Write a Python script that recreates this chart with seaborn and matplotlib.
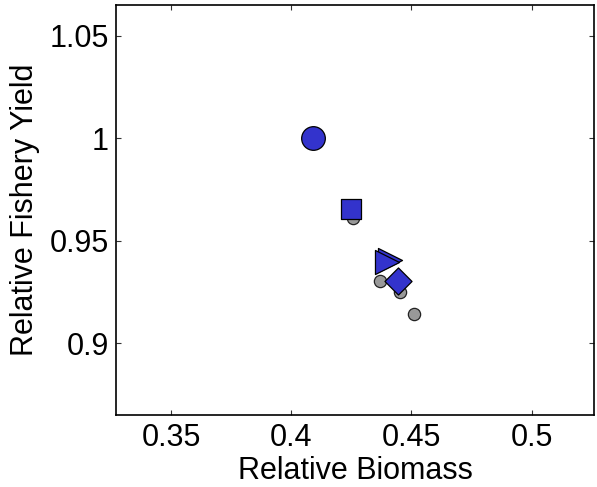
import matplotlib
matplotlib.use("Agg")
import matplotlib.pyplot as plt
import seaborn as sns
import pandas as pd

# Data
gray_x = [0.4257, 0.4368, 0.4452, 0.4510]
gray_y = [0.9610, 0.9306, 0.9252, 0.9142]

blue_labels = ["circle", "square", "triangle_b", "triangle_a", "diamond"]
blue_x = [0.4090, 0.4250, 0.4410, 0.4398, 0.4442]
blue_y = [1.0000, 0.9654, 0.9404, 0.9395, 0.9306]
blue_markers = ["o", "s", ">", ">", "D"]
blue_sizes = [290, 190, 300, 300, 190]

x_ticks = [0.35, 0.40, 0.45, 0.50]
x_ticklabels = ["0.35", "0.4", "0.45", "0.5"]
y_ticks = [0.90, 0.95, 1.00, 1.05]
y_ticklabels = ["0.9", "0.95", "1", "1.05"]

sns.set_theme(style="white")
plt.rcParams["font.family"] = ["Liberation Sans", "DejaVu Sans"]

fig = plt.figure(figsize=(5.97, 4.87), dpi=100)
ax = fig.add_axes([0.1943, 0.1478, 0.8007, 0.8419])

gray_df = pd.DataFrame({"x": gray_x, "y": gray_y})
sns.scatterplot(data=gray_df, x="x", y="y", ax=ax, s=78, color="#999999",
                edgecolor="#222222", linewidth=0.9, zorder=2)

blue_df = pd.DataFrame({"x": blue_x, "y": blue_y, "m": blue_markers,
                        "s": blue_sizes, "lab": blue_labels})
for i, row in blue_df.iterrows():
    sns.scatterplot(x=[row["x"]], y=[row["y"]], ax=ax, marker=row["m"],
                    s=row["s"], color="#3333CC", edgecolor="#000000",
                    linewidth=0.9, zorder=3 + i * 0.1)

ax.set_xlim(0.327, 0.526)
ax.set_ylim(0.865, 1.065)
ax.set_xticks(x_ticks)
ax.set_xticklabels(x_ticklabels)
ax.set_yticks(y_ticks)
ax.set_yticklabels(y_ticklabels)

ax.tick_params(axis="both", which="major", direction="in", length=3.5,
               width=0.8, color="#333333", labelsize=22, top=True, right=True,
               bottom=True, left=True, labelcolor="black")
ax.tick_params(axis="y", pad=5)
ax.tick_params(axis="x", pad=6)

for sp in ax.spines.values():
    sp.set_visible(True)
    sp.set_color("black")
    sp.set_linewidth(1.2)

ax.set_xlabel("Relative Biomass", fontsize=22, labelpad=2, color="black")
ax.set_ylabel("Relative Fishery Yield", fontsize=22, labelpad=7, color="black")
ax.grid(False)

fig.savefig("out.png", dpi=100, facecolor="white")
